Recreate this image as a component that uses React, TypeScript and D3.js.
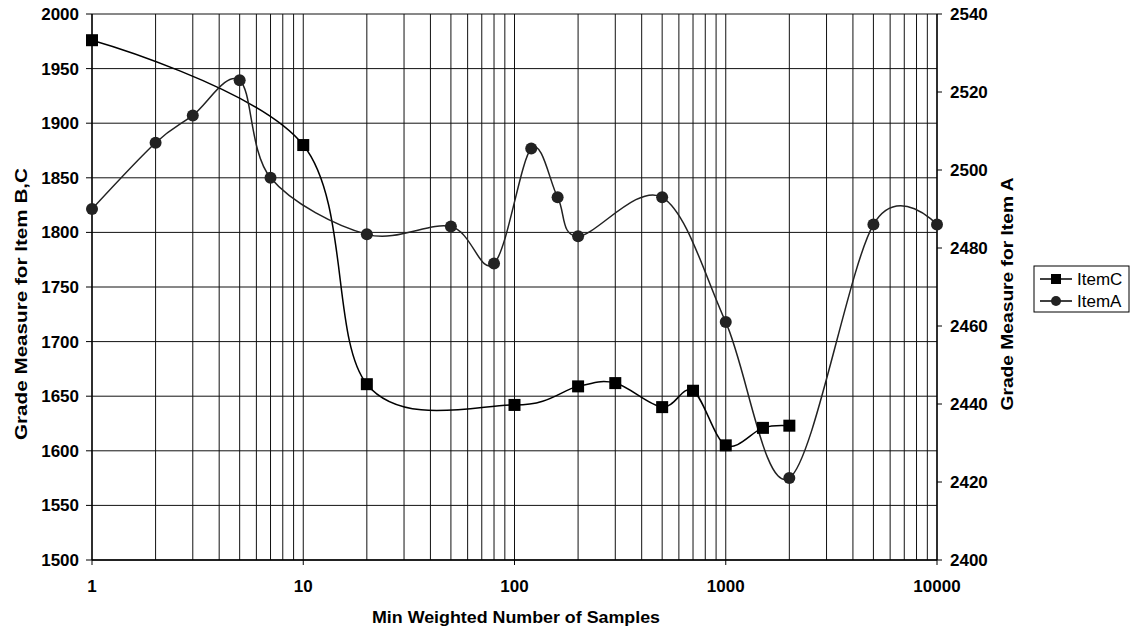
import React from "react";
import * as d3 from "d3";

// Samples thresholds (x) and grade measures for each item
const itemCSamples = [1, 10, 20, 100, 200, 300, 500, 700, 1000, 1500, 2000];
const itemCValues = [1976, 1880, 1661, 1642, 1659, 1662, 1640, 1655, 1605, 1621, 1623];

const itemASamples = [1, 2, 3, 5, 7, 20, 50, 80, 120, 160, 200, 500, 1000, 2000, 5000, 10000];
const itemAValues = [2490, 2507, 2514, 2523, 2498, 2483.5, 2485.5, 2476, 2505.5, 2493, 2483, 2493, 2461, 2421, 2486, 2486];

const leftTicks = [1500, 1550, 1600, 1650, 1700, 1750, 1800, 1850, 1900, 1950, 2000];
const rightTicks = [2400, 2420, 2440, 2460, 2480, 2500, 2520, 2540];
const xTicks = [1, 10, 100, 1000, 10000];

const legendItems = ["ItemC", "ItemA"];

const W = 1142;
const H = 629;
const plot = { left: 92, right: 937, top: 14, bottom: 560 };
const FONT = "'Liberation Sans', Arial, Helvetica, sans-serif";

export default function App() {
  const x = d3.scaleLog().domain([1, 10000]).range([plot.left, plot.right]);
  const yL = d3.scaleLinear().domain([1500, 2000]).range([plot.bottom, plot.top]);
  const yR = d3.scaleLinear().domain([2400, 2540]).range([plot.bottom, plot.top]);

  // minor log grid: 1..9 in each decade
  const vGrid: number[] = [];
  for (let dec = 1; dec < 10000; dec *= 10) {
    for (let k = 1; k <= 9; k++) vGrid.push(dec * k);
  }
  vGrid.push(10000);

  const smooth = d3.curveCardinal.tension(0);
  const lineC = d3
    .line<number>()
    .x((_, i) => x(itemCSamples[i]))
    .y((v) => yL(v))
    .curve(smooth);
  const lineA = d3
    .line<number>()
    .x((_, i) => x(itemASamples[i]))
    .y((v) => yR(v))
    .curve(smooth);

  const sq = 12;
  const legend = { x: 1034, y: 266, w: 95, h: 46 };

  return (
    <svg
      width={W}
      height={H}
      style={{ position: "absolute", left: 0, top: 0, background: "#fff" }}
      fontFamily={FONT}
    >
      {/* vertical log grid */}
      {vGrid.map((v) => (
        <line key={"v" + v} x1={x(v)} x2={x(v)} y1={plot.top} y2={plot.bottom} stroke="#111" strokeWidth={1} />
      ))}
      {/* horizontal grid */}
      {leftTicks.map((t) => (
        <line key={"h" + t} x1={plot.left} x2={plot.right} y1={yL(t)} y2={yL(t)} stroke="#111" strokeWidth={1} />
      ))}

      {/* axes */}
      <line x1={plot.left} x2={plot.left} y1={plot.top} y2={plot.bottom} stroke="#000" strokeWidth={1.3} />
      <line x1={plot.right} x2={plot.right} y1={plot.top} y2={plot.bottom} stroke="#000" strokeWidth={1.3} />
      <line x1={plot.left} x2={plot.right} y1={plot.bottom} y2={plot.bottom} stroke="#000" strokeWidth={1.3} />

      {leftTicks.map((t) => (
        <g key={"lt" + t}>
          <line x1={plot.left - 6} x2={plot.left} y1={yL(t)} y2={yL(t)} stroke="#000" />
          <text x={79} y={yL(t)} dy="0.35em" textAnchor="end" fontSize={17} fontWeight="bold">
            {t}
          </text>
        </g>
      ))}
      {rightTicks.map((t) => (
        <g key={"rt" + t}>
          <line x1={plot.right} x2={plot.right + 5} y1={yR(t)} y2={yR(t)} stroke="#000" />
          <text x={950} y={yR(t)} dy="0.35em" textAnchor="start" fontSize={17} fontWeight="bold">
            {t}
          </text>
        </g>
      ))}
      {xTicks.map((t) => (
        <g key={"xt" + t}>
          <line x1={x(t)} x2={x(t)} y1={plot.bottom} y2={plot.bottom + 5} stroke="#000" />
          <text x={x(t)} y={592} textAnchor="middle" fontSize={17} fontWeight="bold">
            {t}
          </text>
        </g>
      ))}

      {/* axis titles */}
      <text
        x={516}
        y={623}
        textAnchor="middle"
        fontSize={17}
        fontWeight="bold"
        textLength={288}
        lengthAdjust="spacingAndGlyphs"
      >
        Min Weighted Number of Samples
      </text>
      <text
        transform="translate(27,304) rotate(-90)"
        textAnchor="middle"
        fontSize={17}
        fontWeight="bold"
        textLength={272}
        lengthAdjust="spacingAndGlyphs"
      >
        Grade Measure for Item B,C
      </text>
      <text
        transform="translate(1013,294) rotate(-90)"
        textAnchor="middle"
        fontSize={17}
        fontWeight="bold"
        textLength={233}
        lengthAdjust="spacingAndGlyphs"
      >
        Grade Measure for Item A
      </text>

      {/* series */}
      <path d={lineC(itemCValues) ?? ""} fill="none" stroke="#000" strokeWidth={1.5} />
      <path d={lineA(itemAValues) ?? ""} fill="none" stroke="#222" strokeWidth={1.5} />
      {itemCValues.map((v, i) => (
        <rect
          key={"c" + i}
          x={x(itemCSamples[i]) - sq / 2}
          y={yL(v) - sq / 2}
          width={sq}
          height={sq}
          fill="#000"
        />
      ))}
      {itemAValues.map((v, i) => (
        <circle key={"a" + i} cx={x(itemASamples[i])} cy={yR(v)} r={6} fill="#222" />
      ))}

      {/* legend */}
      <rect x={legend.x} y={legend.y} width={legend.w} height={legend.h} fill="#fff" stroke="#000" strokeWidth={1} />
      {legendItems.map((name, i) => {
        const cy = legend.y + 13 + i * 22;
        return (
          <g key={name}>
            <line x1={legend.x + 6} x2={legend.x + 38} y1={cy} y2={cy} stroke="#000" strokeWidth={1.5} />
            {name === "ItemC" ? (
              <rect x={legend.x + 22 - 5} y={cy - 5} width={10} height={10} fill="#000" />
            ) : (
              <circle cx={legend.x + 22} cy={cy} r={5} fill="#222" />
            )}
            <text x={legend.x + 43} y={cy} dy="0.35em" fontSize={17}>
              {name}
            </text>
          </g>
        );
      })}
    </svg>
  );
}
